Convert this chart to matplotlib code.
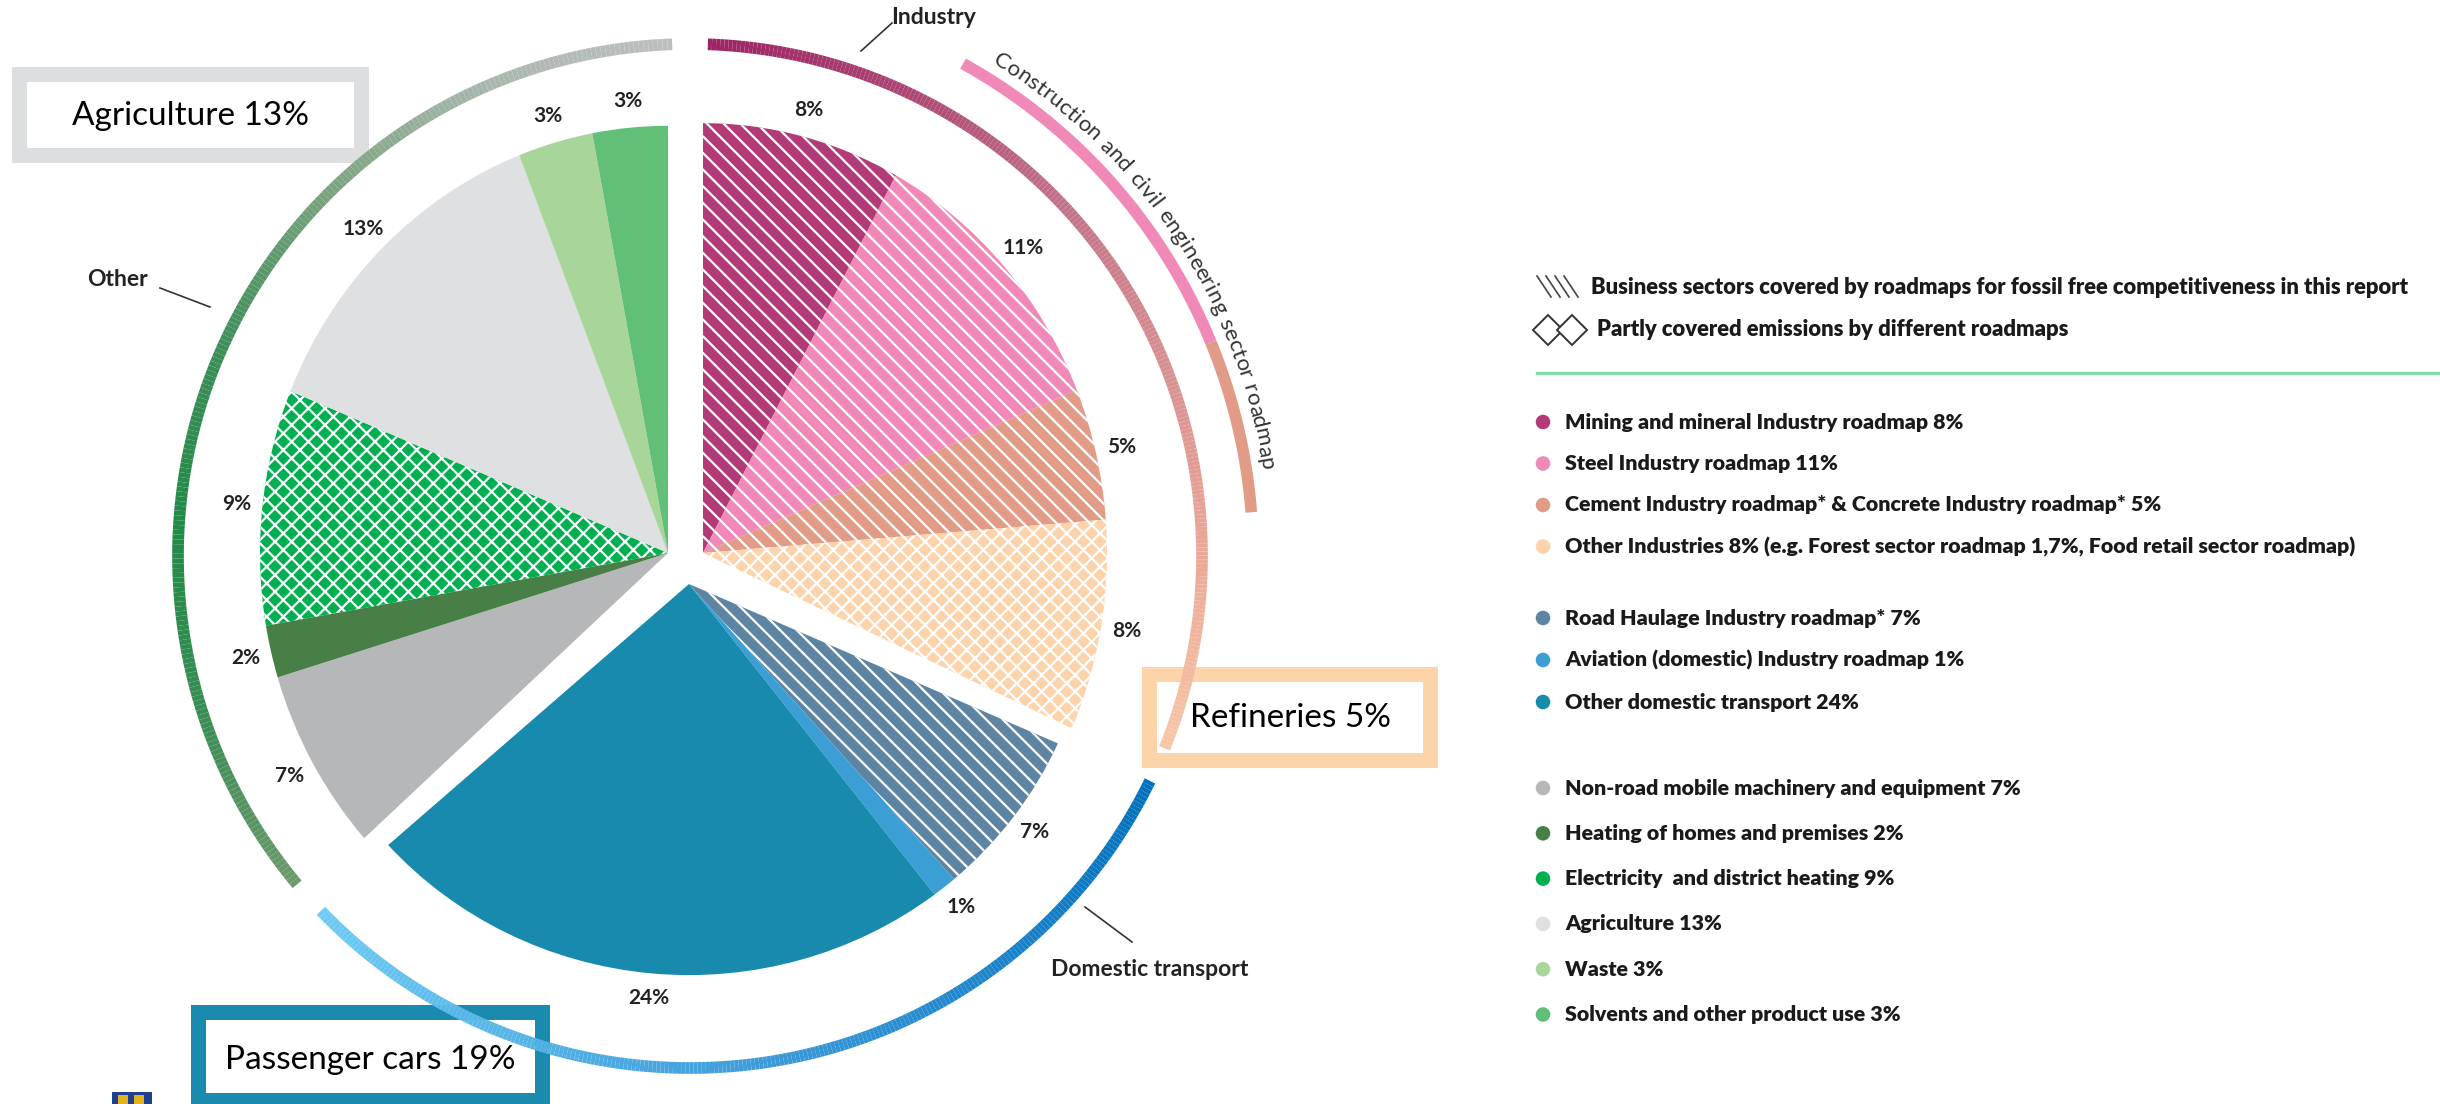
import numpy as np
import matplotlib.pyplot as plt
from matplotlib.collections import LineCollection
from matplotlib.colors import LinearSegmentedColormap
from matplotlib.patches import Rectangle
from matplotlib.font_manager import FontProperties
from matplotlib.textpath import TextToPath
from matplotlib.transforms import Affine2D

W, H = 2440, 1104

# ---- data ----
sectors = ['Mining and mineral Industry roadmap', 'Steel Industry roadmap',
           'Cement Industry roadmap* & Concrete Industry roadmap*', 'Other Industries',
           'Road Haulage Industry roadmap*', 'Aviation (domestic) Industry roadmap',
           'Other domestic transport', 'Non-road mobile machinery and equipment',
           'Heating of homes and premises', 'Electricity  and district heating',
           'Agriculture', 'Waste', 'Solvents and other product use']
shares = [8, 11, 5, 8, 7, 1, 24, 7, 2, 9, 13, 3, 3]
notes = ['', '', '', ' (e.g. Forest sector roadmap 1,7%, Food retail sector roadmap)',
         '', '', '', '', '', '', '', '', '']
groups = ['Industry'] * 4 + ['Domestic transport'] * 3 + ['Other'] * 6
group_names = ['Industry', 'Domestic transport', 'Other']
colors = ['#b23a77', '#f089b8', '#e29b86', '#fdd3ab',
          '#5e84a3', '#3b9fd6', '#178aad',
          '#b6b7b9', '#477f47', '#00b050', '#dfe0e2', '#a8d69a', '#62bf78']
hatches = ['\\\\', '\\\\', '\\\\', 'xx', '\\\\', '', '', '', '', 'xx', '', '', '']
hatch_notes = ['Business sectors covered by roadmaps for fossil free competitiveness in this report',
               'Partly covered emissions by different roadmaps']
roadmap_arc_label = 'Construction and civil engineering sector roadmap'
callouts = ['Agriculture 13%', 'Refineries 5%', 'Passenger cars 19%']
callout_colors = ['#dddee0', '#fdd3aa', '#1a8aae']

# ---- layout ----
group_center = {'Industry': (703, 553), 'Domestic transport': (689, 584), 'Other': (668, 553)}
group_radius = {'Industry': 404, 'Domestic transport': 404, 'Other': 408}
group_ky = {'Industry': 1.064, 'Domestic transport': 0.968, 'Other': 1.047}
ARC_C = (690, 556)
ARC_R = 512
group_cmaps = {
    'Industry': ['#9c2463', '#ab4573', '#c27289', '#d68f91', '#eaa897', '#f7c6a7'],
    'Domestic transport': ['#0070bb', '#1d84cb', '#3d9ad9', '#55b3e6', '#6ecbf3'],
    'Other': ['#6c9a6c', '#3a8d55', '#218a47', '#3e8e58', '#7aa37e', '#a9b7ad', '#bcbfc0'],
}
callout_boxes = [(12, 67, 357, 96), (1142, 667, 296, 101), (191, 1005, 359, 103)]
callout_text_y = [116, 718, 1060]
BORDER = 15

FONT = 'Lato'
LEG_HEAD = 15.8
LEG_SIZE = 15.4

plt.rcParams['hatch.linewidth'] = 1.6

fig = plt.figure(figsize=(W / 100, H / 100), dpi=100)
ax = fig.add_axes([0, 0, 1, 1])

wedges, _ = ax.pie(shares, colors=colors, startangle=-90, counterclock=True,
                   wedgeprops=dict(linewidth=0, edgecolor='white'))
for w, g, h, s in zip(wedges, groups, hatches, shares):
    cx, cy = group_center[g]
    ky = group_ky[g]
    w.set_center((cx, cy))
    w.set_radius(group_radius[g])
    w.set_hatch(h)
    w.set_zorder(2)
    w.set_transform(Affine2D().translate(-cx, -cy).scale(1, ky).translate(cx, cy)
                    + ax.transData)
    th = np.deg2rad((w.theta1 + w.theta2) / 2)
    r = group_radius[g] + 26
    ax.text(cx + r * np.cos(th), cy + ky * r * np.sin(th), f'{s}%', ha='center',
            va='center', fontsize=15, fontweight='bold', family=FONT, color='#222222',
            zorder=5)

ax.set_xlim(0, W)
ax.set_ylim(H, 0)
ax.set_aspect('auto')
ax.axis('off')


def arc_points(p0, p1, r, n=240):
    phi = np.deg2rad(np.linspace(p0, p1, n))
    return np.column_stack([ARC_C[0] + r * np.sin(phi), ARC_C[1] - r * np.cos(phi)])


def gradient_arc(p0, p1, r, cols, lw=8.4):
    pts = arc_points(p0, p1, r)
    segs = np.stack([pts[:-1], pts[1:]], axis=1)
    cmap = LinearSegmentedColormap.from_list('g', cols)
    lc = LineCollection(segs, colors=cmap(np.linspace(0, 1, len(segs))), linewidths=lw,
                        capstyle='butt', zorder=4)
    ax.add_collection(lc)


# group arcs from cumulative shares
bounds = np.concatenate([[0], np.cumsum(shares)]) / sum(shares) * 360
for name in group_names:
    idx = [i for i, g in enumerate(groups) if g == name]
    a0, a1 = bounds[idx[0]], bounds[idx[-1] + 1]
    gradient_arc(a0 + 2, a1 - 2, ARC_R, group_cmaps[name])

# construction roadmap arc over steel + cement
for i in (1, 2):
    pts = arc_points(bounds[i] + (0.5 if i == 1 else 0), bounds[i + 1], 563)
    ax.plot(pts[:, 0], pts[:, 1], color=colors[i], lw=8.4, solid_capstyle='butt', zorder=4)

# curved label
prop = FontProperties(family=FONT, size=16)
ttp = TextToPath()
cw = [ttp.get_text_width_height_descent(ch, prop, ismath=False)[0] if ch != ' ' else 4.8
      for ch in roadmap_arc_label]
cw = np.array(cw) + 0.6
centers = np.cumsum(cw) - cw / 2
phi0, phi1 = 31.5, 81.5
for ch, c in zip(roadmap_arc_label, centers):
    phi = phi0 + (phi1 - phi0) * c / cw.sum()
    p = np.deg2rad(phi)
    ax.text(ARC_C[0] + 578 * np.sin(p), ARC_C[1] - 578 * np.cos(p), ch, rotation=-phi,
            rotation_mode='anchor', ha='center', va='baseline', fontsize=16,
            family=FONT, color='#333333', zorder=5)

# group labels with leader lines
for name, (tx, ty), (x0, y0, x1, y1) in zip(
        group_names, [(934, 17), (1150, 970), (117, 280)],
        [(892, 23, 861, 51), (1085, 907, 1132, 942), (160, 288, 210, 307)]):
    ax.text(tx, ty, name, ha='center', va='center', fontsize=16.5, fontweight='bold',
            family=FONT, color='#222222')
    ax.plot([x0, x1], [y0, y1], color='#333333', lw=1.2)

# callout boxes
for label, col, (bx, by, bw, bh), ty in zip(callouts, callout_colors, callout_boxes,
                                            callout_text_y):
    ax.add_patch(Rectangle((bx, by), bw, bh, facecolor=col, edgecolor='none', zorder=3))
    ax.add_patch(Rectangle((bx + BORDER, by + BORDER), bw - 2 * BORDER, bh - 2 * BORDER,
                           facecolor='white', edgecolor='none', zorder=3))
    ax.text(bx + bw / 2, ty, label, ha='center', va='center', fontsize=24, family=FONT,
            color='black', zorder=6)

# small logo
ax.add_patch(Rectangle((112, 1092), 40, 14, facecolor='#1f3f8f', edgecolor='none'))
for lx in (118, 134):
    ax.add_patch(Rectangle((lx, 1095), 10, 9, facecolor='#e0b21c', edgecolor='none'))

# legend: hatch notes
for k in range(4):
    ax.plot([1537 + k * 9, 1551 + k * 9], [276, 297], color='#444444', lw=1.2)
ax.plot([1548, 1572], [330, 330], ls='none', marker='D', markersize=15,
        markerfacecolor='white', markeredgecolor='#333333', markeredgewidth=1.4)
ax.text(1591, 287, hatch_notes[0], ha='left', va='center', fontsize=LEG_HEAD,
        fontweight='heavy', family=FONT, color='#1a1a1a')
ax.text(1597, 329, hatch_notes[1], ha='left', va='center', fontsize=LEG_HEAD,
        fontweight='heavy', family=FONT, color='#1a1a1a')
ax.plot([1537, W], [373, 373], color='#86dba6', lw=2.4)

# legend: sectors
block_start = {'Industry': 422, 'Domestic transport': 618, 'Other': 788}
block_step = {'Industry': 41.5, 'Domestic transport': 42, 'Other': 45.3}
for name in group_names:
    idx = [i for i, g in enumerate(groups) if g == name]
    for k, i in enumerate(idx):
        y = block_start[name] + k * block_step[name]
        ax.scatter([1543], [y], s=110, color=colors[i], edgecolors='none')
        ax.text(1565, y, f'{sectors[i]} {shares[i]}%{notes[i]}', ha='left', va='center',
                fontsize=LEG_SIZE, fontweight='heavy', family=FONT, color='#1a1a1a')

fig.savefig('out.png', dpi=100, facecolor='white')
